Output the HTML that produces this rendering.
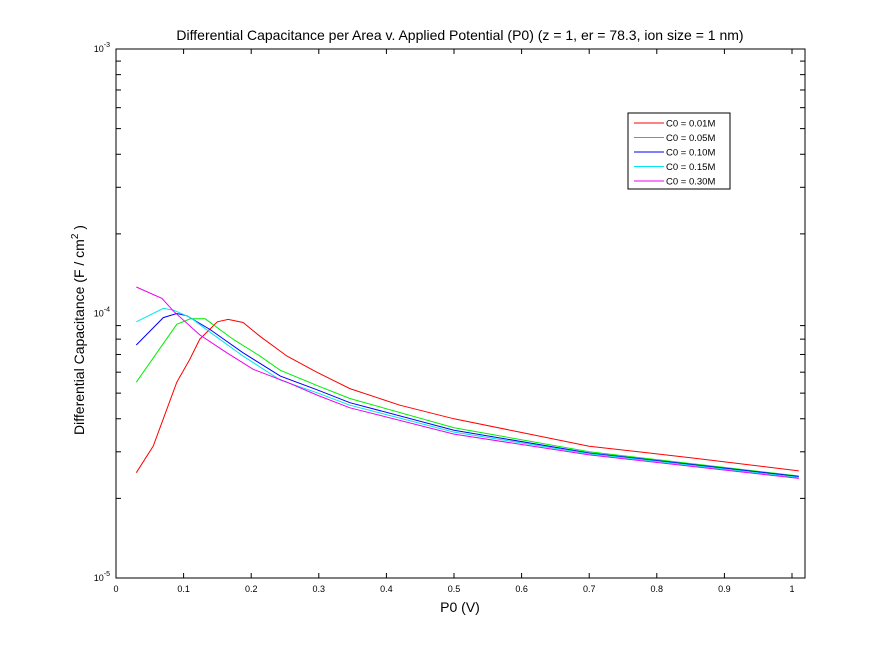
<!DOCTYPE html>
<html><head><meta charset="utf-8"><style>
body{margin:0;background:#fff;}
svg{font-family:"Liberation Sans",sans-serif;}
</style></head><body>
<svg width="889" height="651" viewBox="0 0 889 651">
<rect width="889" height="651" fill="#fff"/>
<text x="460" y="40" font-size="14" text-anchor="middle">Differential Capacitance per Area v. Applied Potential (P0) (z = 1, er = 78.3, ion size = 1 nm)</text>
<g id="axes"></g>
<g id="series"></g>
<g id="legend"></g>
<text x="460" y="612" font-size="14" text-anchor="middle">P0 (V)</text>
<text transform="translate(84,330) rotate(-90)" font-size="14" text-anchor="middle">Differential Capacitance (F / cm<tspan dy="-6" font-size="10">2</tspan><tspan dy="6"> )</tspan></text>
</svg>
<script>
const seriesNames=["C0 = 0.01M","C0 = 0.05M","C0 = 0.10M","C0 = 0.15M","C0 = 0.30M"];
const seriesColors=["#ff0000","#00ee00","#0000ff","#00e5ee","#ee00ee"];
const xRed=[0.03,0.055,0.07,0.09,0.109,0.124,0.15,0.166,0.188,0.213,0.253,0.297,0.346,0.42,0.5,0.6,0.7,0.85,1.01];
const yRed=[2.5e-5,3.15e-5,4.0e-5,5.5e-5,6.7e-5,8.0e-5,9.3e-5,9.5e-5,9.25e-5,8.2e-5,6.9e-5,6.0e-5,5.2e-5,4.5e-5,4.0e-5,3.55e-5,3.15e-5,2.85e-5,2.54e-5];
const xGreen=[0.03,0.09,0.11,0.132,0.173,0.213,0.243,0.297,0.346,0.5,0.7,1.01];
const yGreen=[5.5e-5,9.1e-5,9.55e-5,9.55e-5,8.0e-5,6.9e-5,6.1e-5,5.35e-5,4.77e-5,3.7e-5,3.0e-5,2.43e-5];
const xBlue=[0.03,0.07,0.09,0.105,0.139,0.188,0.243,0.297,0.346,0.5,0.7,1.01];
const yBlue=[7.6e-5,9.65e-5,1.0e-4,9.8e-5,8.7e-5,7.1e-5,5.8e-5,5.15e-5,4.6e-5,3.62e-5,2.97e-5,2.42e-5];
const xCyan=[0.03,0.07,0.085,0.11,0.139,0.188,0.243,0.297,0.346,0.5,0.7,1.01];
const yCyan=[9.3e-5,1.045e-4,1.03e-4,9.65e-5,8.5e-5,6.9e-5,5.6e-5,5.02e-5,4.5e-5,3.56e-5,2.95e-5,2.40e-5];
const xMag=[0.03,0.068,0.085,0.124,0.164,0.203,0.253,0.297,0.346,0.5,0.7,1.01];
const yMag=[1.26e-4,1.14e-4,1.02e-4,8.3e-5,7.1e-5,6.15e-5,5.5e-5,4.92e-5,4.4e-5,3.5e-5,2.92e-5,2.38e-5];
const xTicks=[0,0.1,0.2,0.3,0.4,0.5,0.6,0.7,0.8,0.9,1];
const xTickLabels=["0","0.1","0.2","0.3","0.4","0.5","0.6","0.7","0.8","0.9","1"];
const yDecades=[-5,-4,-3];

const L=116,R=805,T=49,B=578;
const X=v=>L+v*676;
const Y=v=>B-(Math.log10(v)+5)*((B-T)/2);
const NS="http://www.w3.org/2000/svg";
function mk(tag,attrs,parent){const e=document.createElementNS(NS,tag);for(const k in attrs)e.setAttribute(k,attrs[k]);parent.appendChild(e);return e;}
const ax=document.getElementById('axes');
const frame=mk('rect',{x:L,y:T,width:R-L,height:B-T,fill:'none',stroke:'#000','stroke-width':1},ax);


xTicks.forEach((t,i)=>{
  const x=X(t);
  mk('line',{x1:x,x2:x,y1:B,y2:B-5,stroke:'#000'},ax);
  mk('line',{x1:x,x2:x,y1:T,y2:T+5,stroke:'#000'},ax);
  const tx=mk('text',{x:x,y:B+14,'font-size':9,'text-anchor':'middle'},ax);
  tx.textContent=xTickLabels[i];
  
  
});
yDecades.forEach(d=>{
  const y=Y(Math.pow(10,d));
  const tx=mk('text',{x:L-6,y:y+3,'font-size':9,'text-anchor':'end'},ax);
  tx.innerHTML='10<tspan dy="-5" font-size="7">'+d+'</tspan>';
  
  
  if(d<-3){for(let m=2;m<=9;m++){const yy=Y(m*Math.pow(10,d));
    mk('line',{x1:L,x2:L+5,y1:yy,y2:yy,stroke:'#000'},ax);
    mk('line',{x1:R,x2:R-5,y1:yy,y2:yy,stroke:'#000'},ax);}}
});
const sg=document.getElementById('series');
const xs=[xRed,xGreen,xBlue,xCyan,xMag],ys=[yRed,yGreen,yBlue,yCyan,yMag];
xs.forEach((xa,i)=>{
  const pts=xa.map((x,j)=>X(x).toFixed(1)+','+Y(ys[i][j]).toFixed(1)).join(' ');
  const p=mk('polyline',{points:pts,fill:'none',stroke:seriesColors[i],'stroke-width':1},sg);
  
  
});
const lg=document.getElementById('legend');
const box=mk('rect',{x:628,y:113,width:102,height:76,fill:'#fff',stroke:'#000'},lg);


seriesNames.forEach((n,i)=>{
  const y=123+i*14.5;
  mk('line',{x1:634,x2:664,y1:y,y2:y,stroke:seriesColors[i]},lg);
  const t=mk('text',{x:666,y:y+3.5,'font-size':9.5},lg);
  t.textContent=n;
  
  
});
</script>
</body></html>
